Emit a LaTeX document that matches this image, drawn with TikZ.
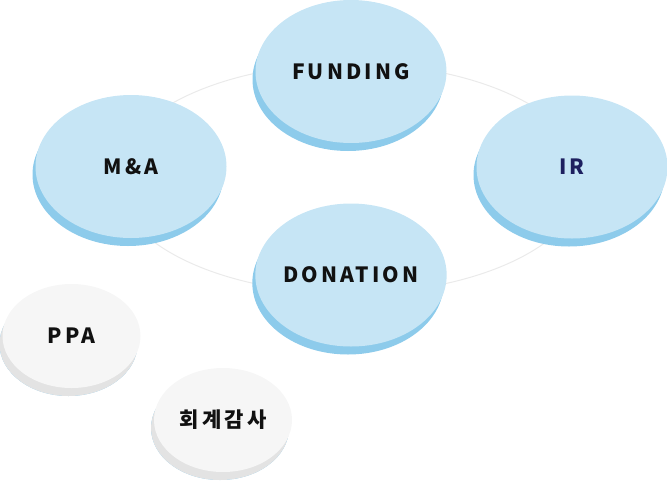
\documentclass[tikz,border=0pt]{standalone}
\usepackage{fontspec}
\usetikzlibrary{shapes.geometric,shadows}
\newfontfamily\lblfont{Noto Sans CJK KR}[LetterSpace=15]
\definecolor{bluemain}{HTML}{C6E5F5}
\definecolor{blueshadow}{HTML}{8DCBEB}
\definecolor{graymain}{HTML}{F6F6F6}
\definecolor{grayshadow}{HTML}{E3E3E3}
\definecolor{ringcol}{HTML}{EAEAEA}
\definecolor{navytext}{HTML}{1E2060}
\definecolor{darktext}{HTML}{111111}
\tikzset{
  blob/.style={ellipse, inner sep=0pt, minimum width=191pt, minimum height=143pt,
    fill=bluemain, text=darktext,
    font=\lblfont\bfseries\fontsize{21}{25}\selectfont,
    general shadow={fill=blueshadow, shadow xshift=-3pt, shadow yshift=-8pt}},
  smallblob/.style={blob, minimum width=138pt, minimum height=104pt, fill=graymain,
    general shadow={fill=grayshadow, shadow xshift=-3pt, shadow yshift=-8pt}},
  ring/.style={draw=ringcol, line width=1pt}
}
\begin{document}
\begin{tikzpicture}[x=1pt,y=-1pt]
\useasboundingbox (0,0) rectangle (667,480);
\coordinate (ringc) at (350,178.5);
\draw[ring] (ringc) ellipse [x radius=235pt, y radius=115pt];
\node[blob] (fund) at (351,71.5) {FUNDING};
\node[blob] (ma) at (131,166.5) {M\&A};
\node[blob, text=navytext] (ir) at (572,167) {IR};
\node[blob] (don) at (351,275) {DONATION};
\node[smallblob] (ppa) at (71.5,336) {PPA};
\node[smallblob] (audit) at (223,420) {회계감사};
\end{tikzpicture}
\end{document}
